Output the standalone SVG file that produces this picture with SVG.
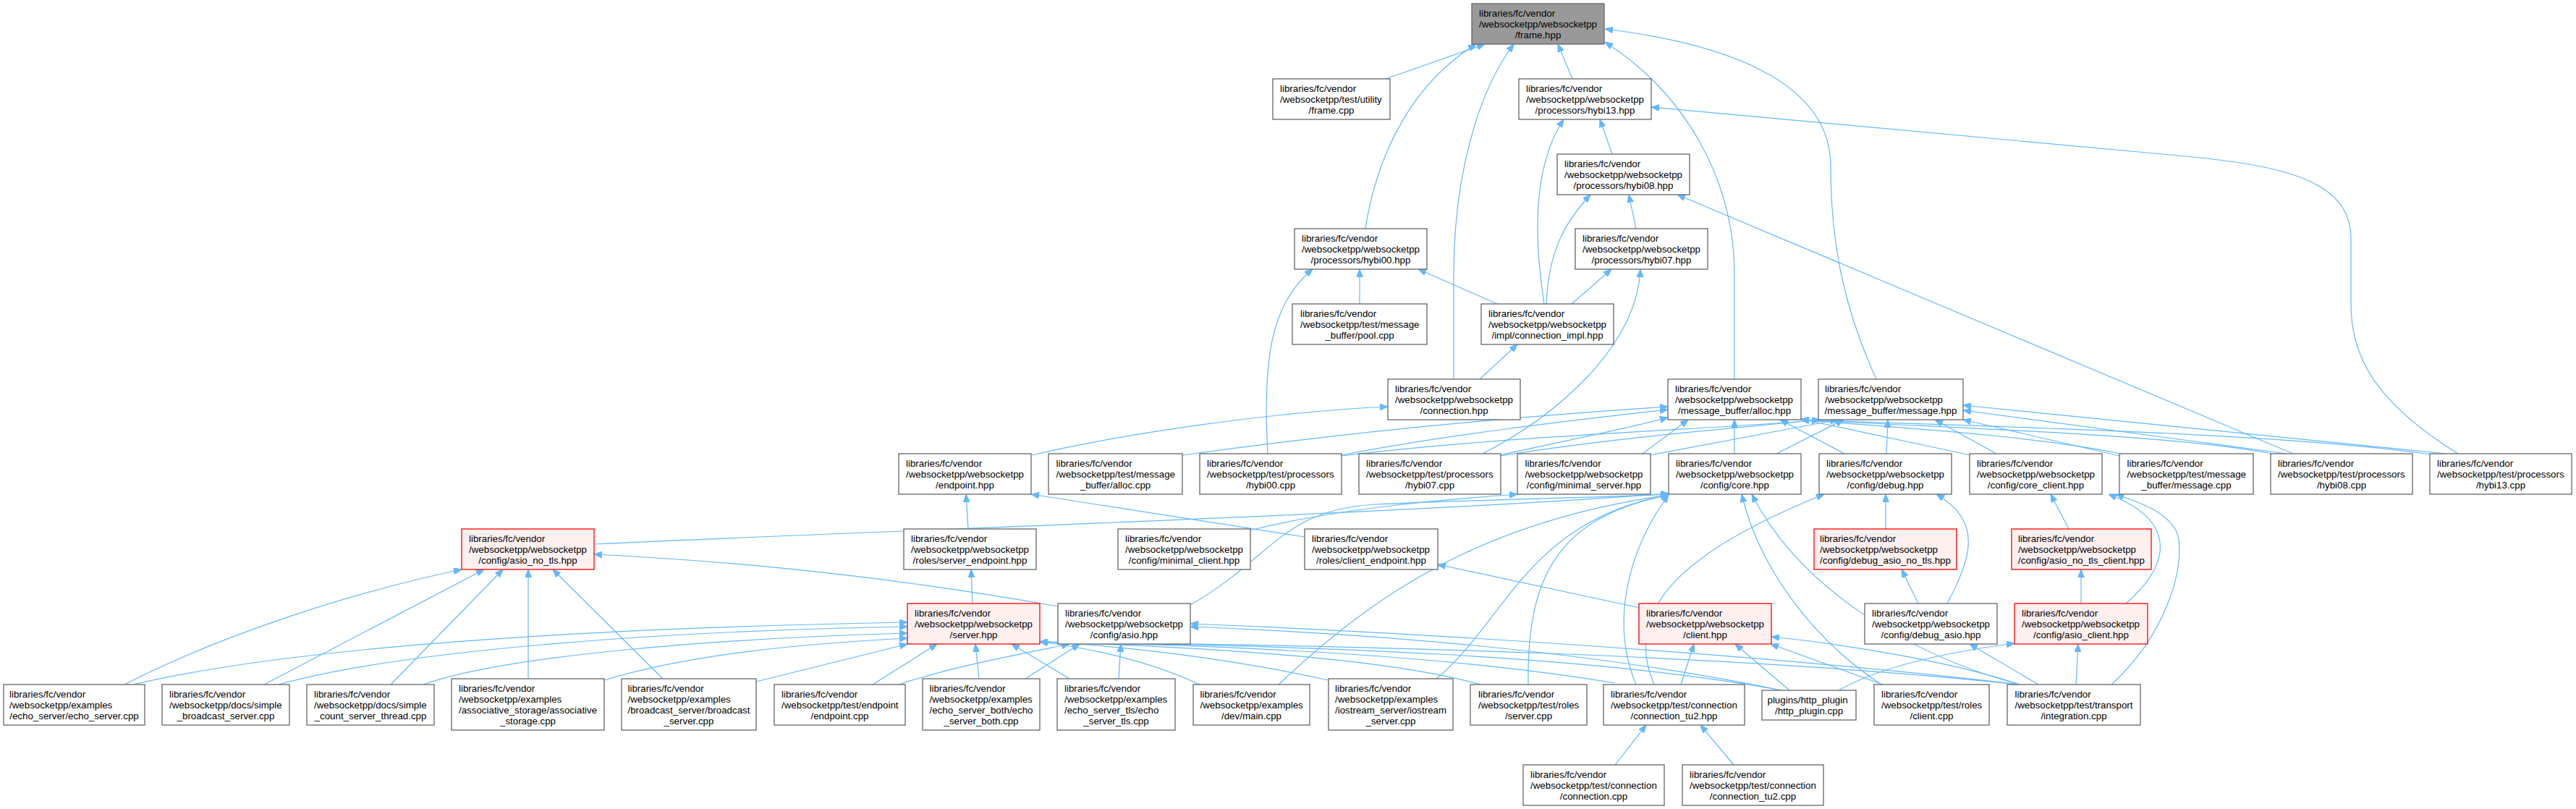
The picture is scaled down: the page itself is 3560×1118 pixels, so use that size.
<svg xmlns="http://www.w3.org/2000/svg" width="3560" height="1118" viewBox="0 0 3560 1118">
<style>
rect{fill:#ffffff;stroke:#666666;stroke-width:1.3}
.r rect{fill:#fff0f0;stroke:#ff0000}
.g rect{fill:#999999;stroke:#666666}
text{font-family:"Liberation Sans",Arial,Helvetica,sans-serif;font-size:13.33px;fill:#000000}
.c{text-anchor:middle}
#edges path{fill:none;stroke:#63b8ff;stroke-width:1.2;marker-end:url(#a)}
</style>
<defs>
<marker id="a" markerWidth="11" markerHeight="9" refX="11" refY="4.5" orient="auto" markerUnits="userSpaceOnUse"><path d="M0,0 L11,4.5 L0,9 z" fill="#63b8ff" stroke="#63b8ff" stroke-width="1"/></marker>
</defs>
<rect x="0" y="0" width="3560" height="1118" style="fill:#ffffff;stroke:none"/>
<g id="edges">
<path d="M1915,109 L2052,61"/>
<path d="M2173,109 L2153,61"/>
<path d="M1887,316 C1905,200 1960,110 2040,61"/>
<path d="M2009,524 L2009,380 C2009,250 2040,130 2092,61"/>
<path d="M2397,524 L2397,380 C2397,250 2330,130 2218,58"/>
<path d="M2593,524 C2550,430 2530,340 2530,230 C2530,110 2380,60 2218,40"/>
<path d="M2228,213 L2211,165"/>
<path d="M2134,420 C2120,330 2118,230 2161,165"/>
<path d="M3397,627 C3290,560 3249,500 3249,420 L3249,330 C3249,250 3160,228 3000,214 L2282,148"/>
<path d="M2261,316 L2251,269"/>
<path d="M2137,420 C2140,350 2160,310 2198,269"/>
<path d="M3169,627 L2318,269"/>
<path d="M2172,420 L2227,372"/>
<path d="M2049,627 C2150,575 2262,480 2267,372"/>
<path d="M1879,420 L1879,372"/>
<path d="M2069,420 L1960,372"/>
<path d="M1752,627 C1745,500 1755,420 1814,372"/>
<path d="M2045,524 L2097,476"/>
<path d="M1426,629 C1550,600 1750,570 1918,562"/>
<path d="M1634,629 C1900,592 2150,572 2305,562"/>
<path d="M1854,629 C2000,600 2200,578 2305,566"/>
<path d="M2072,629 C2150,612 2250,592 2305,577"/>
<path d="M2270,627 L2333,580"/>
<path d="M2397,627 L2397,580"/>
<path d="M2549,627 L2460,580"/>
<path d="M2723,629 L2489,579"/>
<path d="M2931,627 C2800,600 2600,590 2489,580"/>
<path d="M3140,627 C3000,600 2700,592 2489,580"/>
<path d="M3360,628 C3150,598 2750,590 2489,580"/>
<path d="M1854,630 C2100,600 2400,592 2515,580"/>
<path d="M2073,630 C2250,602 2420,590 2515,580"/>
<path d="M2280,629 L2540,580"/>
<path d="M2455,627 L2548,580"/>
<path d="M2607,627 L2609,580"/>
<path d="M2759,627 L2674,580"/>
<path d="M2929,630 L2713,580"/>
<path d="M3160,627 L2713,567"/>
<path d="M3380,627 L2713,560"/>
<path d="M821,752 C1300,730 1900,712 2306,682"/>
<path d="M1462,838 C1200,792 1000,775 821,766"/>
<path d="M1645,836 C1760,770 1770,705 1900,697 C2050,690 2200,688 2306,683"/>
<path d="M1338,731 L1335,683"/>
<path d="M1803,742 L1425,683"/>
<path d="M1344,834 L1342,787"/>
<path d="M2266,840 L1987,780"/>
<path d="M1727,733 C1850,702 2000,690 2097,683"/>
<path d="M2606,731 L2606,683"/>
<path d="M2651,834 L2628,787"/>
<path d="M2691,834 C2725,770 2740,720 2676,683"/>
<path d="M2859,731 L2834,683"/>
<path d="M2876,834 L2876,787"/>
<path d="M2938,834 C3000,780 3010,720 2914,683"/>
<path d="M2918,946 C2990,880 3020,790 3010,740 C3000,710 2960,695 2924,683"/>
<path d="M2869,946 L2872,890"/>
<path d="M2817,946 L2722,890"/>
<path d="M2541,954 C2600,920 2700,900 2784,889"/>
<path d="M2323,946 L2341,890"/>
<path d="M2473,954 L2398,890"/>
<path d="M2602,946 L2447,890"/>
<path d="M2791,946 C2700,915 2550,890 2448,880"/>
<path d="M2600,946 C2500,880 2430,780 2407,683"/>
<path d="M2791,946 C2620,900 2480,800 2421,683"/>
<path d="M2286,946 C2240,840 2330,760 2521,683"/>
<path d="M2261,946 C2225,860 2250,760 2306,684"/>
<path d="M2232,1057 L2275,1002"/>
<path d="M2396,1057 L2350,1002"/>
<path d="M1767,946 C1900,820 2050,720 2306,684"/>
<path d="M1985,938 C2080,860 2110,720 2306,684"/>
<path d="M2112,946 C2110,800 2150,715 2306,684"/>
<path d="M184,946 C400,895 800,868 1254,860"/>
<path d="M385,946 C550,900 900,872 1254,866"/>
<path d="M585,946 C700,905 1000,882 1254,875"/>
<path d="M835,940 C950,905 1100,890 1254,882"/>
<path d="M1045,942 L1254,890"/>
<path d="M1206,946 L1295,890"/>
<path d="M1353,938 L1348,890"/>
<path d="M1478,938 L1398,890"/>
<path d="M1658,946 C1580,910 1500,895 1437,887"/>
<path d="M1836,940 C1700,910 1550,892 1437,887"/>
<path d="M2046,946 C1900,905 1600,892 1437,887"/>
<path d="M2232,944 C2000,905 1700,892 1437,887"/>
<path d="M2462,954 C2200,905 1800,892 1437,887"/>
<path d="M2791,946 C2400,905 1900,892 1437,887"/>
<path d="M1417,938 L1492,890"/>
<path d="M1546,938 L1549,890"/>
<path d="M1242,946 C1320,920 1420,902 1478,890"/>
<path d="M2462,954 C2200,900 1900,876 1645,866"/>
<path d="M2791,946 C2400,900 1900,872 1645,862"/>
<path d="M172,946 C300,880 480,820 638,787"/>
<path d="M365,946 L669,787"/>
<path d="M540,946 L695,787"/>
<path d="M730,938 L730,787"/>
<path d="M916,938 L764,787"/>
</g>
<g id="n_frame" class="g"><rect x="2034" y="5" width="183" height="56"/><text x="2044" y="22.5">libraries/fc/vendor</text><text x="2044" y="37.5">/websocketpp/websocketpp</text><text class="c" x="2125.5" y="52.5">/frame.hpp</text></g>
<g id="n_frame_cpp"><rect x="1759" y="109" width="162" height="56"/><text x="1769" y="126.5">libraries/fc/vendor</text><text x="1769" y="141.5">/websocketpp/test/utility</text><text class="c" x="1840" y="156.5">/frame.cpp</text></g>
<g id="n_hybi13_hpp"><rect x="2099" y="109" width="183" height="56"/><text x="2109" y="126.5">libraries/fc/vendor</text><text x="2109" y="141.5">/websocketpp/websocketpp</text><text class="c" x="2190.5" y="156.5">/processors/hybi13.hpp</text></g>
<g id="n_hybi08_hpp"><rect x="2152" y="213" width="183" height="56"/><text x="2162" y="230.5">libraries/fc/vendor</text><text x="2162" y="245.5">/websocketpp/websocketpp</text><text class="c" x="2243.5" y="260.5">/processors/hybi08.hpp</text></g>
<g id="n_hybi00_hpp"><rect x="1789" y="316" width="183" height="56"/><text x="1799" y="333.5">libraries/fc/vendor</text><text x="1799" y="348.5">/websocketpp/websocketpp</text><text class="c" x="1880.5" y="363.5">/processors/hybi00.hpp</text></g>
<g id="n_hybi07_hpp"><rect x="2177" y="316" width="183" height="56"/><text x="2187" y="333.5">libraries/fc/vendor</text><text x="2187" y="348.5">/websocketpp/websocketpp</text><text class="c" x="2268.5" y="363.5">/processors/hybi07.hpp</text></g>
<g id="n_pool_cpp"><rect x="1786" y="420" width="186" height="56"/><text x="1797" y="437.5">libraries/fc/vendor</text><text x="1797" y="452.5">/websocketpp/test/message</text><text class="c" x="1879" y="467.5">_buffer/pool.cpp</text></g>
<g id="n_connection_impl"><rect x="2047" y="420" width="183" height="56"/><text x="2057" y="437.5">libraries/fc/vendor</text><text x="2057" y="452.5">/websocketpp/websocketpp</text><text class="c" x="2138.5" y="467.5">/impl/connection_impl.hpp</text></g>
<g id="n_connection_hpp"><rect x="1918" y="524" width="183" height="56"/><text x="1928" y="541.5">libraries/fc/vendor</text><text x="1928" y="556.5">/websocketpp/websocketpp</text><text class="c" x="2009.5" y="571.5">/connection.hpp</text></g>
<g id="n_alloc_hpp"><rect x="2305" y="524" width="184" height="56"/><text x="2315" y="541.5">libraries/fc/vendor</text><text x="2315" y="556.5">/websocketpp/websocketpp</text><text class="c" x="2397" y="571.5">/message_buffer/alloc.hpp</text></g>
<g id="n_message_hpp"><rect x="2513" y="524" width="200" height="56"/><text x="2522" y="541.5">libraries/fc/vendor</text><text x="2522" y="556.5">/websocketpp/websocketpp</text><text class="c" x="2613" y="571.5">/message_buffer/message.hpp</text></g>
<g id="n_endpoint_hpp"><rect x="1242" y="627" width="183" height="56"/><text x="1252" y="644.5">libraries/fc/vendor</text><text x="1252" y="659.5">/websocketpp/websocketpp</text><text class="c" x="1333.5" y="674.5">/endpoint.hpp</text></g>
<g id="n_alloc_cpp"><rect x="1449" y="627" width="185" height="56"/><text x="1459.5" y="644.5">libraries/fc/vendor</text><text x="1459.5" y="659.5">/websocketpp/test/message</text><text class="c" x="1541.5" y="674.5">_buffer/alloc.cpp</text></g>
<g id="n_hybi00_cpp"><rect x="1658" y="627" width="196" height="56"/><text x="1668" y="644.5">libraries/fc/vendor</text><text x="1668" y="659.5">/websocketpp/test/processors</text><text class="c" x="1756" y="674.5">/hybi00.cpp</text></g>
<g id="n_hybi07_cpp"><rect x="1878" y="627" width="196" height="56"/><text x="1888" y="644.5">libraries/fc/vendor</text><text x="1888" y="659.5">/websocketpp/test/processors</text><text class="c" x="1976" y="674.5">/hybi07.cpp</text></g>
<g id="n_minimal_server"><rect x="2097" y="627" width="184" height="56"/><text x="2107.5" y="644.5">libraries/fc/vendor</text><text x="2107.5" y="659.5">/websocketpp/websocketpp</text><text class="c" x="2189" y="674.5">/config/minimal_server.hpp</text></g>
<g id="n_core_hpp"><rect x="2306" y="627" width="183" height="56"/><text x="2316" y="644.5">libraries/fc/vendor</text><text x="2316" y="659.5">/websocketpp/websocketpp</text><text class="c" x="2397.5" y="674.5">/config/core.hpp</text></g>
<g id="n_debug_hpp"><rect x="2514" y="627" width="183" height="56"/><text x="2524" y="644.5">libraries/fc/vendor</text><text x="2524" y="659.5">/websocketpp/websocketpp</text><text class="c" x="2605.5" y="674.5">/config/debug.hpp</text></g>
<g id="n_core_client"><rect x="2722" y="627" width="183" height="56"/><text x="2732" y="644.5">libraries/fc/vendor</text><text x="2732" y="659.5">/websocketpp/websocketpp</text><text class="c" x="2813.5" y="674.5">/config/core_client.hpp</text></g>
<g id="n_message_cpp"><rect x="2929" y="627" width="185" height="56"/><text x="2939.5" y="644.5">libraries/fc/vendor</text><text x="2939.5" y="659.5">/websocketpp/test/message</text><text class="c" x="3021.5" y="674.5">_buffer/message.cpp</text></g>
<g id="n_hybi08_cpp"><rect x="3138" y="627" width="196" height="56"/><text x="3148" y="644.5">libraries/fc/vendor</text><text x="3148" y="659.5">/websocketpp/test/processors</text><text class="c" x="3236" y="674.5">/hybi08.cpp</text></g>
<g id="n_hybi13_cpp"><rect x="3358" y="627" width="196" height="56"/><text x="3368" y="644.5">libraries/fc/vendor</text><text x="3368" y="659.5">/websocketpp/test/processors</text><text class="c" x="3456" y="674.5">/hybi13.cpp</text></g>
<g id="n_asio_no_tls" class="r"><rect x="638" y="731" width="183" height="56"/><text x="648" y="748.5">libraries/fc/vendor</text><text x="648" y="763.5">/websocketpp/websocketpp</text><text class="c" x="729.5" y="778.5">/config/asio_no_tls.hpp</text></g>
<g id="n_server_endpoint"><rect x="1249" y="731" width="183" height="56"/><text x="1259" y="748.5">libraries/fc/vendor</text><text x="1259" y="763.5">/websocketpp/websocketpp</text><text class="c" x="1340.5" y="778.5">/roles/server_endpoint.hpp</text></g>
<g id="n_minimal_client"><rect x="1545" y="731" width="183" height="56"/><text x="1555" y="748.5">libraries/fc/vendor</text><text x="1555" y="763.5">/websocketpp/websocketpp</text><text class="c" x="1636.5" y="778.5">/config/minimal_client.hpp</text></g>
<g id="n_client_endpoint"><rect x="1803" y="731" width="184" height="56"/><text x="1813" y="748.5">libraries/fc/vendor</text><text x="1813" y="763.5">/websocketpp/websocketpp</text><text class="c" x="1895" y="778.5">/roles/client_endpoint.hpp</text></g>
<g id="n_debug_asio_no_tls" class="r"><rect x="2507" y="731" width="197" height="56"/><text x="2515" y="748.5">libraries/fc/vendor</text><text x="2515" y="763.5">/websocketpp/websocketpp</text><text class="c" x="2605.5" y="778.5">/config/debug_asio_no_tls.hpp</text></g>
<g id="n_asio_no_tls_client" class="r"><rect x="2780" y="731" width="193" height="56"/><text x="2789" y="748.5">libraries/fc/vendor</text><text x="2789" y="763.5">/websocketpp/websocketpp</text><text class="c" x="2876.5" y="778.5">/config/asio_no_tls_client.hpp</text></g>
<g id="n_server_hpp" class="r"><rect x="1254" y="834" width="183" height="56"/><text x="1264" y="851.5">libraries/fc/vendor</text><text x="1264" y="866.5">/websocketpp/websocketpp</text><text class="c" x="1345.5" y="881.5">/server.hpp</text></g>
<g id="n_asio_hpp"><rect x="1462" y="834" width="183" height="56"/><text x="1472" y="851.5">libraries/fc/vendor</text><text x="1472" y="866.5">/websocketpp/websocketpp</text><text class="c" x="1553.5" y="881.5">/config/asio.hpp</text></g>
<g id="n_client_hpp" class="r"><rect x="2265" y="834" width="183" height="56"/><text x="2275" y="851.5">libraries/fc/vendor</text><text x="2275" y="866.5">/websocketpp/websocketpp</text><text class="c" x="2356.5" y="881.5">/client.hpp</text></g>
<g id="n_debug_asio"><rect x="2577" y="834" width="183" height="56"/><text x="2587" y="851.5">libraries/fc/vendor</text><text x="2587" y="866.5">/websocketpp/websocketpp</text><text class="c" x="2668.5" y="881.5">/config/debug_asio.hpp</text></g>
<g id="n_asio_client" class="r"><rect x="2784" y="834" width="184" height="56"/><text x="2794" y="851.5">libraries/fc/vendor</text><text x="2794" y="866.5">/websocketpp/websocketpp</text><text class="c" x="2876" y="881.5">/config/asio_client.hpp</text></g>
<g id="n_echo_server"><rect x="5" y="946" width="195" height="56"/><text x="13" y="963.5">libraries/fc/vendor</text><text x="13" y="978.5">/websocketpp/examples</text><text class="c" x="102.5" y="993.5">/echo_server/echo_server.cpp</text></g>
<g id="n_simple_broadcast"><rect x="224" y="946" width="176" height="56"/><text x="234" y="963.5">libraries/fc/vendor</text><text x="234" y="978.5">/websocketpp/docs/simple</text><text class="c" x="312" y="993.5">_broadcast_server.cpp</text></g>
<g id="n_simple_count"><rect x="424" y="946" width="176" height="56"/><text x="434" y="963.5">libraries/fc/vendor</text><text x="434" y="978.5">/websocketpp/docs/simple</text><text class="c" x="512" y="993.5">_count_server_thread.cpp</text></g>
<g id="n_associative"><rect x="624" y="938" width="211" height="71"/><text x="634" y="955.5">libraries/fc/vendor</text><text x="634" y="970.5">/websocketpp/examples</text><text x="634" y="985.5">/associative_storage/associative</text><text class="c" x="729.5" y="1000.5">_storage.cpp</text></g>
<g id="n_broadcast_server"><rect x="859" y="938" width="186" height="71"/><text x="867.5" y="955.5">libraries/fc/vendor</text><text x="867.5" y="970.5">/websocketpp/examples</text><text x="867.5" y="985.5">/broadcast_server/broadcast</text><text class="c" x="952" y="1000.5">_server.cpp</text></g>
<g id="n_endpoint_cpp"><rect x="1070" y="946" width="181" height="56"/><text x="1080" y="963.5">libraries/fc/vendor</text><text x="1080" y="978.5">/websocketpp/test/endpoint</text><text class="c" x="1160.5" y="993.5">/endpoint.cpp</text></g>
<g id="n_echo_server_both"><rect x="1275" y="938" width="162" height="71"/><text x="1284.5" y="955.5">libraries/fc/vendor</text><text x="1284.5" y="970.5">/websocketpp/examples</text><text x="1284.5" y="985.5">/echo_server_both/echo</text><text class="c" x="1356" y="1000.5">_server_both.cpp</text></g>
<g id="n_echo_server_tls"><rect x="1461" y="938" width="163" height="71"/><text x="1471" y="955.5">libraries/fc/vendor</text><text x="1471" y="970.5">/websocketpp/examples</text><text x="1471" y="985.5">/echo_server_tls/echo</text><text class="c" x="1542.5" y="1000.5">_server_tls.cpp</text></g>
<g id="n_dev_main"><rect x="1649" y="946" width="161" height="56"/><text x="1658.5" y="963.5">libraries/fc/vendor</text><text x="1658.5" y="978.5">/websocketpp/examples</text><text class="c" x="1729.5" y="993.5">/dev/main.cpp</text></g>
<g id="n_iostream"><rect x="1836" y="938" width="172" height="71"/><text x="1845" y="955.5">libraries/fc/vendor</text><text x="1845" y="970.5">/websocketpp/examples</text><text x="1845" y="985.5">/iostream_server/iostream</text><text class="c" x="1922" y="1000.5">_server.cpp</text></g>
<g id="n_roles_server"><rect x="2032" y="946" width="161" height="56"/><text x="2043" y="963.5">libraries/fc/vendor</text><text x="2043" y="978.5">/websocketpp/test/roles</text><text class="c" x="2112.5" y="993.5">/server.cpp</text></g>
<g id="n_connection_tu2_hpp"><rect x="2216" y="946" width="195" height="56"/><text x="2226" y="963.5">libraries/fc/vendor</text><text x="2226" y="978.5">/websocketpp/test/connection</text><text class="c" x="2313.5" y="993.5">/connection_tu2.hpp</text></g>
<g id="n_http_plugin"><rect x="2435" y="954" width="130" height="41"/><text x="2442.5" y="971.5">plugins/http_plugin</text><text class="c" x="2500" y="986.5">/http_plugin.cpp</text></g>
<g id="n_roles_client"><rect x="2590" y="946" width="159" height="56"/><text x="2600" y="963.5">libraries/fc/vendor</text><text x="2600" y="978.5">/websocketpp/test/roles</text><text class="c" x="2669.5" y="993.5">/client.cpp</text></g>
<g id="n_integration"><rect x="2774" y="946" width="184" height="56"/><text x="2784.5" y="963.5">libraries/fc/vendor</text><text x="2784.5" y="978.5">/websocketpp/test/transport</text><text class="c" x="2866" y="993.5">/integration.cpp</text></g>
<g id="n_connection_cpp"><rect x="2105" y="1057" width="195" height="56"/><text x="2115" y="1074.5">libraries/fc/vendor</text><text x="2115" y="1089.5">/websocketpp/test/connection</text><text class="c" x="2202.5" y="1104.5">/connection.cpp</text></g>
<g id="n_connection_tu2_cpp"><rect x="2325" y="1057" width="195" height="56"/><text x="2335" y="1074.5">libraries/fc/vendor</text><text x="2335" y="1089.5">/websocketpp/test/connection</text><text class="c" x="2422.5" y="1104.5">/connection_tu2.cpp</text></g>
</svg>
